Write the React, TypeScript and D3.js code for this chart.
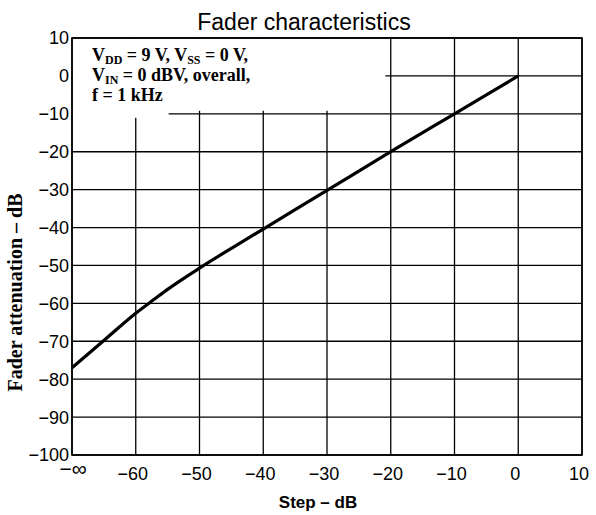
import React from "react";
import * as d3 from "d3";

// step (dB) vs fader attenuation (dB); -70 stands for -∞
const stepDb = [-70, -65, -60, -57, -55, -50, -45, -40, -30, -20, -10, 0];
const attenDb = [-77, -69.8, -62.6, -58.8, -56.3, -50.7, -45.5, -40.4, -30.2, -20, -10, 0];

const xTicks = [-70, -60, -50, -40, -30, -20, -10, 0, 10];
const xTickLabels = ["−∞", "−60", "−50", "−40", "−30", "−20", "−10", "0", "10"];
const yTicks = [10, 0, -10, -20, -30, -40, -50, -60, -70, -80, -90, -100];

const W = 596;
const H = 515;
const margin = { top: 38, right: 14, bottom: 60, left: 72 };

export default function App() {
  const x = d3.scaleLinear().domain([-70, 10]).range([margin.left, W - margin.right]);
  const y = d3.scaleLinear().domain([-100, 10]).range([H - margin.bottom, margin.top]);

  const pts: [number, number][] = stepDb.map((s, i) => [s, attenDb[i]]);
  const line = d3
    .line<[number, number]>()
    .x((d) => x(d[0]))
    .y((d) => y(d[1]))
    .curve(d3.curveMonotoneX);

  const sans = "'Liberation Sans', Arial, Helvetica, sans-serif";
  const serif = "'Liberation Serif', 'Times New Roman', serif";

  return (
    <svg
      width={W}
      height={H}
      style={{ position: "absolute", left: 0, top: 0, background: "#fff" }}
    >
      <text x={304} y={30} textAnchor="middle" fontFamily={sans} fontSize={23}>
        Fader characteristics
      </text>

      {/* grid */}
      <g stroke="#000" strokeWidth={1.3}>
        {xTicks.map((t) => (
          <line key={"gx" + t} x1={x(t)} x2={x(t)} y1={y(-100)} y2={y(10)} />
        ))}
        {yTicks.map((t) => (
          <line key={"gy" + t} x1={x(-70)} x2={x(10)} y1={y(t)} y2={y(t)} />
        ))}
      </g>

      {/* note box blanks out grid */}
      <rect x={x(-70) + 1} y={y(10) + 1} width={x(-21) - x(-70)} height={y(-9.2) - y(10) - 1} fill="#fff" />
      <rect x={x(-70) + 1} y={y(10) + 1} width={x(-55) - x(-70)} height={y(-10.8) - y(10)} fill="#fff" />

      <g fontFamily={serif} fontWeight="bold" fontSize={18} fill="#000">
        <text x={92} y={61}>
          V<tspan fontSize={12} dy={2.5}>DD</tspan>
          <tspan dy={-2.5}> = 9 V, V</tspan>
          <tspan fontSize={12} dy={2.5}>SS</tspan>
          <tspan dy={-2.5}> = 0 V,</tspan>
        </text>
        <text x={92} y={81}>
          V<tspan fontSize={12} dy={2.5}>IN</tspan>
          <tspan dy={-2.5}> = 0 dBV, overall,</tspan>
        </text>
        <text x={92} y={101}>f = 1 kHz</text>
      </g>

      <rect
        x={x(-70)}
        y={y(10)}
        width={x(10) - x(-70)}
        height={y(-100) - y(10)}
        fill="none"
        stroke="#000"
        strokeWidth={1.6}
      />

      <path d={line(pts) || ""} fill="none" stroke="#000" strokeWidth={3.2} />

      {/* axis labels */}
      <g fontFamily={sans} fontSize={18} fill="#000">
        {yTicks.map((t) => (
          <text key={"ty" + t} x={margin.left - 3} y={y(t)} dy="0.36em" textAnchor="end">
            {t < 0 ? "−" + Math.abs(t) : t}
          </text>
        ))}
        {xTicks.map((t, i) => (
          <text
            key={"tx" + t}
            x={x(t) - (i === 0 ? -1 : 3)}
            y={i === 0 ? 476 : 480}
            textAnchor="middle"
            fontSize={i === 0 ? 21 : 18}
          >
            {xTickLabels[i]}
          </text>
        ))}
      </g>

      <text x={318} y={508} textAnchor="middle" fontFamily={sans} fontWeight="bold" fontSize={17}>
        Step – dB
      </text>
      <text
        transform={`translate(22, ${(y(10) + y(-100)) / 2 + 46}) rotate(-90)`}
        textAnchor="middle"
        fontFamily={serif}
        fontWeight="bold"
        fontSize={20}
      >
        Fader attenuation – dB
      </text>
    </svg>
  );
}
